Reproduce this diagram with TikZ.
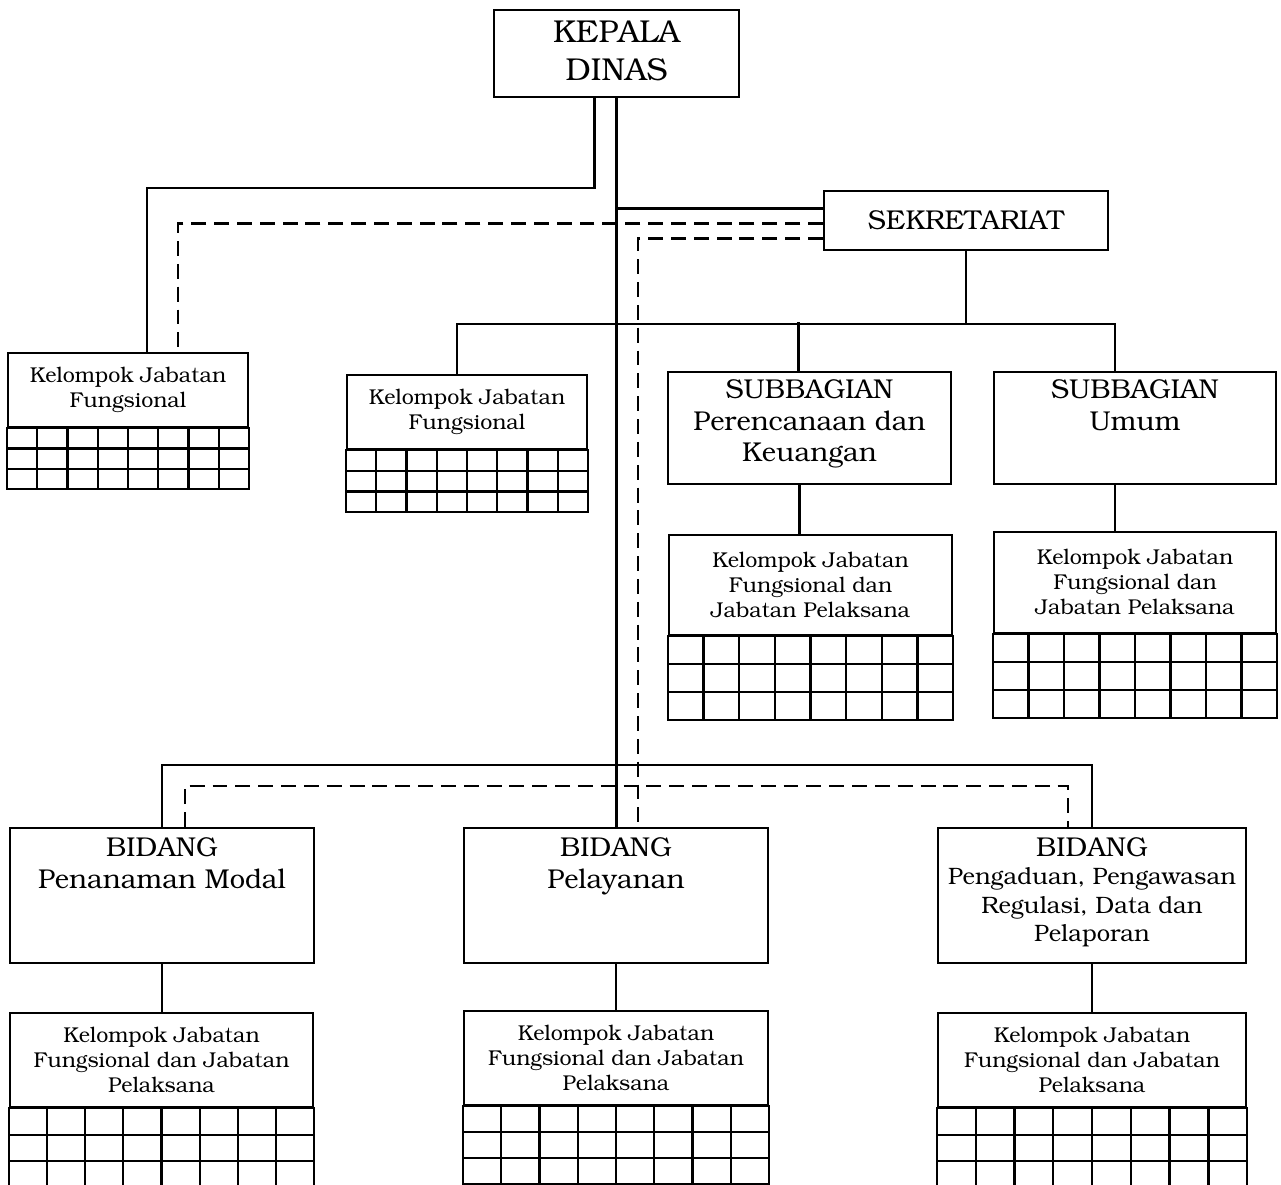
\documentclass[tikz,border=0pt]{standalone}
\usepackage[T1]{fontenc}
\usepackage{bookman}
\usetikzlibrary{calc}

\newcommand{\pxu}{0.02cm}
\newcommand{\txtbig}{\fontsize{18}{21.6}\selectfont}
\newcommand{\txtmid}{\fontsize{15.5}{18.1}\selectfont}
\newcommand{\txtpg}{\fontsize{13.5}{16.2}\selectfont}
\newcommand{\txtsmall}{\fontsize{12.2}{14.2}\selectfont}

% grid of 3 rows x 8 columns under a header node
\newcommand{\kgrid}[2]{%
  \draw[link] (#1.south west) rectangle ($(#1.south east)+(0,3*#2)$);
  \foreach \r in {1,2}
    \draw[link] ($(#1.south west)+(0,\r*#2)$) -- ($(#1.south east)+(0,\r*#2)$);
  \foreach \c in {1,...,7}
    \draw[link] ($(#1.south west)!\c/8!(#1.south east)$) -- +(0,3*#2);
}

\begin{document}
\begin{tikzpicture}[x=0.02cm,y=-0.02cm]
  \tikzstyle{unit}=[draw,line width=1.3pt,rectangle,inner sep=0pt,align=center];
  \tikzstyle{link}=[line width=1.3pt];
  \tikzstyle{dashlink}=[line width=1.3pt,dash pattern=on 8.5pt off 4.5pt];
  \tikzstyle{txt}=[inner sep=0pt,align=center,anchor=north];

  \useasboundingbox (0,0) rectangle (1281,1185);
  \clip (0,0) rectangle (1281,1185);

  \node (kd) at (616.5,53.5) [unit,minimum width=245*\pxu,minimum height=87*\pxu]{};
  \node (kdt) at ($(kd.north)+(0,11)$) [txt,font=\txtbig]{KEPALA\\DINAS};
  \node (sek) at (966,220.5) [unit,minimum width=284*\pxu,minimum height=59*\pxu,font=\txtmid]{SEKRETARIAT};

  \node (kjf1) at (128,390) [unit,minimum width=240*\pxu,minimum height=74*\pxu,font=\txtsmall]{Kelompok Jabatan\\Fungsional};
  \node (kjf2) at (467,412) [unit,minimum width=240*\pxu,minimum height=74*\pxu,font=\txtsmall]{Kelompok Jabatan\\Fungsional};

  \node (spk) at (809.5,428) [unit,minimum width=283*\pxu,minimum height=112*\pxu]{};
  \node (sum) at (1135,428) [unit,minimum width=282*\pxu,minimum height=112*\pxu]{};
  \node (spkt) at ($(spk.north)+(0,8)$) [txt,font=\txtmid]{SUBBAGIAN\\Perencanaan dan\\Keuangan};
  \node (sumt) at ($(sum.north)+(0,8)$) [txt,font=\txtmid]{SUBBAGIAN\\Umum};

  \node (kjf3) at (810.5,585) [unit,minimum width=283*\pxu,minimum height=100*\pxu,font=\txtsmall]{Kelompok Jabatan\\Fungsional dan\\Jabatan Pelaksana};
  \node (kjf4) at (1135,582.5) [unit,minimum width=282*\pxu,minimum height=101*\pxu,font=\txtsmall]{Kelompok Jabatan\\Fungsional dan\\Jabatan Pelaksana};

  \node (bpm) at (162,895.5) [unit,minimum width=304*\pxu,minimum height=135*\pxu]{};
  \node (bpl) at (616,895.5) [unit,minimum width=304*\pxu,minimum height=135*\pxu]{};
  \node (bpg) at (1092,895.5) [unit,minimum width=308*\pxu,minimum height=135*\pxu]{};
  \node (bpmt) at ($(bpm.north)+(0,10)$) [txt,font=\txtmid]{BIDANG\\Penanaman Modal};
  \node (bplt) at ($(bpl.north)+(0,10)$) [txt,font=\txtmid]{BIDANG\\Pelayanan};
  \node (bpgt) at ($(bpg.north)+(0,10)$) [txt,font=\txtpg]{\txtmid BIDANG\\Pengaduan, Pengawasan\\Regulasi, Data dan\\Pelaporan};

  \node (kjf5) at (161.5,1060) [unit,minimum width=303*\pxu,minimum height=94*\pxu,font=\txtsmall]{Kelompok Jabatan\\Fungsional dan Jabatan\\Pelaksana};
  \node (kjf6) at (616,1058) [unit,minimum width=304*\pxu,minimum height=94*\pxu,font=\txtsmall]{Kelompok Jabatan\\Fungsional dan Jabatan\\Pelaksana};
  \node (kjf7) at (1092,1060) [unit,minimum width=308*\pxu,minimum height=94*\pxu,font=\txtsmall]{Kelompok Jabatan\\Fungsional dan Jabatan\\Pelaksana};

  \kgrid{kjf1}{20.3}
  \kgrid{kjf2}{20.7}
  \kgrid{kjf3}{28}
  \kgrid{kjf4}{28}
  \kgrid{kjf5}{26.5}
  \kgrid{kjf6}{26}
  \kgrid{kjf7}{26.5}

  % lines from the head
  \draw[link] (kd.south) -- (kd.south |- bpl.north);
  \draw[link] (kd.south) ++(-22,0) -- ++(0,90) -| ($(kjf1.north)+(19,0)$);
  \coordinate (s1) at ($(sek.west)+(0,-12)$);
  \draw[link] (s1) -- (s1 -| kd.south);
  \coordinate (s2) at ($(sek.west)+(0,3)$);
  \draw[dashlink] (s2) -| ($(kjf1.north)+(50,0)$);
  \coordinate (s3) at ($(sek.west)+(0,18)$);
  \draw[dashlink] (s3) -| ($(bpl.north)+(22,0)$);

  % sekretariat
  \coordinate (sbus) at ($(sek.south)+(0,73)$);
  \draw[link] (sek.south) -- (sbus);
  \draw[link] ($(kjf2.north)+(-10,0)$) |- (sbus) -| ($(sum.north)+(-20,0)$);
  \draw[link] ($(spk.north)+(-11,0)$) -- ++(0,-49);
  \draw[link] ($(spk.south)+(-10,0)$) -- ($(kjf3.north)+(-11,0)$);
  \draw[link] ($(sum.south)+(-20,0)$) -- ($(kjf4.north)+(-20,0)$);

  % bidang
  \coordinate (bbus) at ($(bpl.north)+(0,-62)$);
  \draw[link] (bpm.north) |- (bbus) -| (bpg.north);
  \draw[dashlink] ($(bpm.north)+(23,0)$) |- ($(bpg.north)+(-24,-41)$) -- ($(bpg.north)+(-24,0)$);
  \draw[link] (bpm.south) -- (bpm.south |- kjf5.north);
  \draw[link] (bpl.south) -- (kjf6.north);
  \draw[link] (bpg.south) -- (kjf7.north);
\end{tikzpicture}
\end{document}
